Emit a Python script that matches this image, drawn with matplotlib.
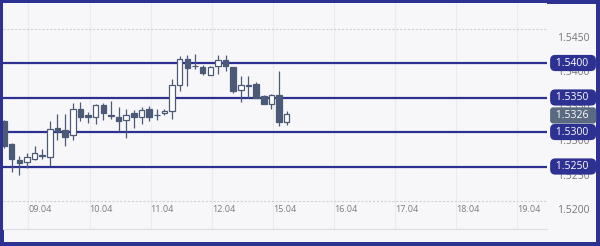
import numpy as np
import matplotlib
matplotlib.use("Agg")
import matplotlib.pyplot as plt
from matplotlib.transforms import ScaledTranslation

# 3h candles
opens = [1.5316, 1.5283, 1.5260, 1.5257, 1.5261, 1.5267, 1.5264, 1.5306, 1.5303, 1.5296,
         1.5333, 1.5324, 1.5322, 1.5339, 1.5325, 1.5322, 1.5317, 1.5328, 1.5322, 1.5334,
         1.5324, 1.5327, 1.5331, 1.5368, 1.5406, 1.5395, 1.5394, 1.5383, 1.5395, 1.5405,
         1.5394, 1.5361, 1.5368, 1.5370, 1.5352, 1.5341, 1.5353, 1.5315]
highs = [1.5318, 1.5284, 1.5265, 1.5270, 1.5280, 1.5275, 1.5316, 1.5326, 1.5326, 1.5342,
         1.5344, 1.5329, 1.5340, 1.5342, 1.5345, 1.5336, 1.5333, 1.5332, 1.5336, 1.5338,
         1.5334, 1.5333, 1.5377, 1.5410, 1.5412, 1.5413, 1.5397, 1.5396, 1.5411, 1.5411,
         1.5394, 1.5381, 1.5381, 1.5372, 1.5353, 1.5355, 1.5388, 1.5331]
lows = [1.5277, 1.5242, 1.5238, 1.5248, 1.5259, 1.5261, 1.5251, 1.5289, 1.5280, 1.5289,
        1.5316, 1.5313, 1.5311, 1.5318, 1.5319, 1.5301, 1.5291, 1.5306, 1.5311, 1.5316,
        1.5318, 1.5324, 1.5319, 1.5360, 1.5367, 1.5392, 1.5382, 1.5382, 1.5384, 1.5389,
        1.5357, 1.5343, 1.5350, 1.5349, 1.5340, 1.5334, 1.5309, 1.5310]
closes = [1.5280, 1.5261, 1.5255, 1.5264, 1.5270, 1.5265, 1.5305, 1.5301, 1.5293, 1.5333,
          1.5322, 1.5322, 1.5339, 1.5327, 1.5323, 1.5316, 1.5324, 1.5322, 1.5332, 1.5322,
          1.5325, 1.5331, 1.5368, 1.5406, 1.5393, 1.5396, 1.5385, 1.5394, 1.5405, 1.5396,
          1.5360, 1.5368, 1.5367, 1.5350, 1.5341, 1.5354, 1.5315, 1.5326]

levels = [1.5400, 1.5350, 1.5300, 1.5250]
last_price = 1.5326
ytick_vals = [1.5200, 1.5250, 1.5300, 1.5350, 1.5400, 1.5450]
day_labels = ["09.04", "10.04", "11.04", "12.04", "15.04", "16.04", "17.04", "18.04", "19.04"]
day_label_pos = [4.7, 12.7, 20.7, 28.7, 36.7, 44.7, 52.7, 60.7, 68.7]
day_grid_pos = [3.2, 11.2, 19.2, 27.2, 35.2, 43.2, 51.2, 59.2, 67.2]

NAVY = "#2d3191"
SLATE = "#4b5a76"
BG = "#f7f7f9"

plt.rcParams["font.family"] = ["Open Sans", "DejaVu Sans"]

fig = plt.figure(figsize=(6, 2.46), dpi=100, facecolor=BG,
                 edgecolor=NAVY, linewidth=4.5)
ax = fig.add_axes([3 / 600, 17 / 246, 544 / 600, 226 / 246])
ax.set_facecolor(BG)

x = np.arange(len(opens))
o = np.array(opens)
c = np.array(closes)

# grid
for g in day_grid_pos:
    ax.axvline(g, color="#ebebef", lw=0.8, zorder=0)
for v in ytick_vals:
    ax.axhline(v, color="#cfcfd6", lw=0.8, ls=(0, (2, 1.5)), zorder=0.5)

# support / resistance lines
for lv in levels:
    ax.axhline(lv, color=NAVY, lw=1.6, zorder=1)

# candles
ax.vlines(x, lows, highs, color=SLATE, lw=0.9, zorder=2)
bull = c >= o
ax.bar(x[bull], np.maximum(c[bull] - o[bull], 0.00002), bottom=o[bull], width=0.72,
       color="white", edgecolor=SLATE, linewidth=0.9, zorder=3)
ax.bar(x[~bull], o[~bull] - c[~bull], bottom=c[~bull], width=0.72,
       color=SLATE, edgecolor=SLATE, linewidth=0.9, zorder=3)

ax.set_xlim(-0.13, 71.07)
ax.set_ylim(1.515942, 1.548696)

for s in ["top", "left", "right"]:
    ax.spines[s].set_visible(False)
ax.spines["bottom"].set_color("#dcdce2")
ax.spines["bottom"].set_linewidth(0.8)

ax.set_xticks(day_label_pos)
ax.set_xticklabels(day_labels)
ax.tick_params(axis="x", length=0, pad=-17, labelsize=6.5, labelcolor="#7a7a80")

ax.yaxis.tick_right()
ax.set_yticks(ytick_vals)
ax.set_yticklabels([f"{v:.4f}" for v in ytick_vals])
ax.tick_params(axis="y", length=0, pad=7.5, labelsize=7.5, labelcolor="#76767c")
for lab in ax.get_yticklabels():
    lab.set_transform(lab.get_transform() + ScaledTranslation(0, -8 / 100, fig.dpi_scale_trans))

# price boxes
tr = ax.get_yaxis_transform()
for lv in levels:
    ax.text(1.0105, lv, f" {lv:.4f}  ", transform=tr, ha="left", va="center",
            fontsize=7.5, color="white", clip_on=False, zorder=10,
            bbox=dict(boxstyle="round,pad=0.25,rounding_size=0.5", fc=NAVY, ec="none"))
ax.text(1.0105, last_price - 0.0002, f" {last_price:.4f}  ", transform=tr, ha="left",
        va="center", fontsize=7.5, color="white", clip_on=False, zorder=10,
        bbox=dict(boxstyle="round,pad=0.25,rounding_size=0.3", fc="#5a6a80", ec="none"))

fig.savefig("out.png", dpi=100, facecolor=BG, edgecolor=NAVY)
